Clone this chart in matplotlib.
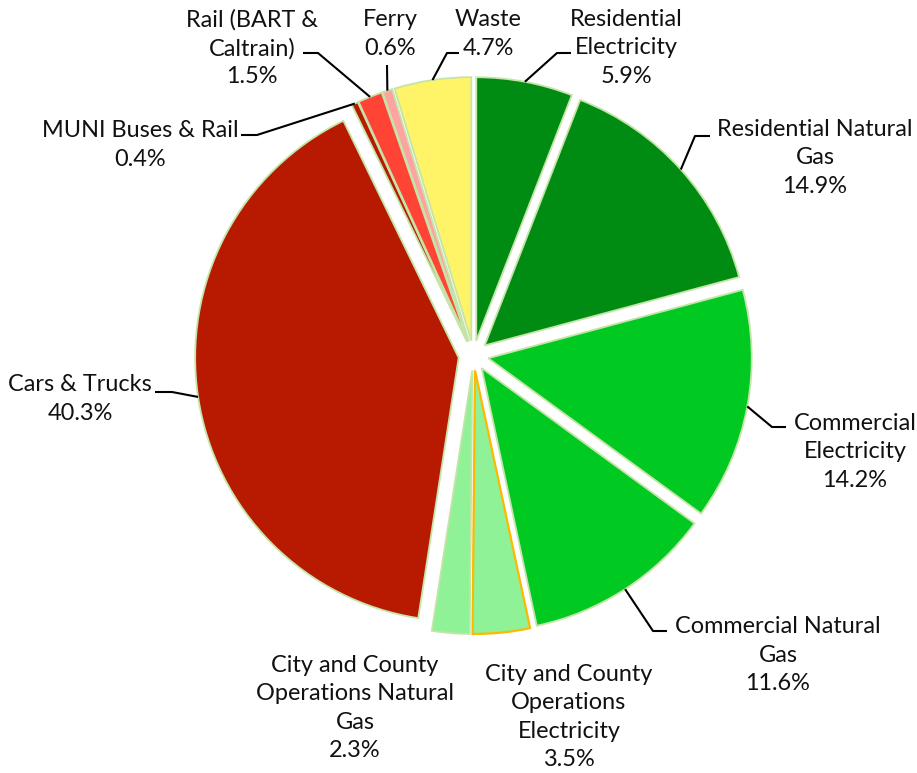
import matplotlib
matplotlib.use("Agg")
import matplotlib.pyplot as plt
import numpy as np

plt.rcParams['font.family'] = ['Lato', 'DejaVu Sans']

categories = ["Residential Electricity", "Residential Natural Gas", "Commercial Electricity",
              "Commercial Natural Gas", "City and County Operations Electricity",
              "City and County Operations Natural Gas", "Cars & Trucks", "MUNI Buses & Rail",
              "Rail (BART & Caltrain)", "Ferry", "Waste"]
values = [5.9, 14.9, 14.2, 11.6, 3.5, 2.3, 40.3, 0.4, 1.5, 0.6, 4.7]
label_texts = ["Residential\nElectricity", "Residential Natural\nGas", "Commercial\nElectricity",
               "Commercial Natural\nGas", "City and County\nOperations\nElectricity",
               "City and County\nOperations Natural\nGas", "Cars & Trucks", "MUNI Buses & Rail",
               "Rail (BART &\nCaltrain)", "Ferry", "Waste"]
colors = ["#008B12", "#008B12", "#00C922", "#00C922", "#8FF296", "#8FF296",
          "#B71A00", "#B71A00", "#FF4436", "#FFA3A0", "#FFF468"]

W, H = 917, 773
fig = plt.figure(figsize=(W / 100, H / 100), dpi=100)
ax = fig.add_axes([0, 0, 1, 1])

def P(x, y):
    return x, H - y

R = 263.5
EXP = 15.0
center = P(473.5, 355.5)
wedges, _ = ax.pie(values, colors=colors, startangle=90, counterclock=False,
                   radius=R, center=center, explode=[EXP] * len(values),
                   wedgeprops=dict(edgecolor="#C4E4A8", linewidth=1.3))
wedges[4].set_edgecolor("#FFB800")
wedges[4].set_linewidth(1.6)

# label layout: (text center x, y in image px, leader elbow, leader end)
layout = {
    0: ((626, 48), [(557, 53), (571, 53)]),
    1: ((815, 158), [(695, 136), (710, 136)]),
    2: ((855, 452), [(772, 427), (786, 427)]),
    3: ((778, 655), [(653, 631), (667, 631)]),
    4: ((569, 717), None),
    5: ((355, 708), None),
    6: ((80, 399), [(172, 392), (155, 392)]),
    7: ((140, 145), [(257, 135), (241, 135)]),
    8: ((252, 48), [(318, 53), (303, 53)]),
    9: ((390, 34), [(387, 65)]),
    10: ((488, 34), [(447, 53), (459, 53)]),
}

for i, w in enumerate(wedges):
    (tx, ty), leader = layout[i]
    txt = f"{label_texts[i]}\n{values[i]:.1f}%"
    ax.text(*P(tx, ty), txt, ha="center", va="center", fontsize=16.9,
            color="#111111", linespacing=1.42)
    if leader:
        th = np.deg2rad(0.5 * (w.theta1 + w.theta2))
        ax_ = w.center[0] + w.r * np.cos(th)
        ay_ = w.center[1] + w.r * np.sin(th)
        xs = [ax_] + [P(*p)[0] for p in leader]
        ys = [ay_] + [P(*p)[1] for p in leader]
        ax.plot(xs, ys, color="black", lw=1.5, solid_capstyle="butt")

ax.set_xlim(0, W)
ax.set_ylim(0, H)
ax.set_aspect("equal")
ax.axis("off")
fig.savefig("out.png", dpi=100)
